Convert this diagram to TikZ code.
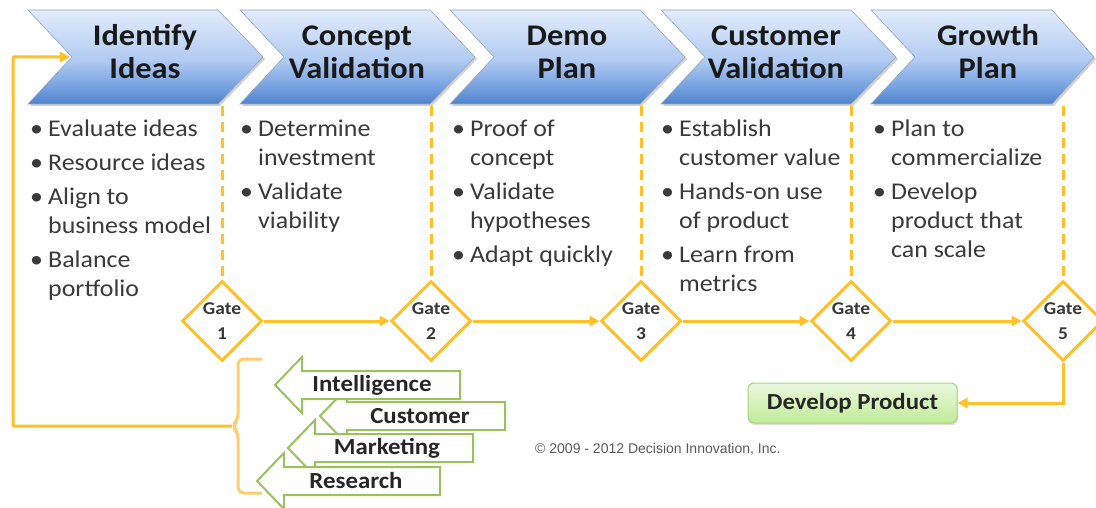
\documentclass[tikz,border=0pt]{standalone}
\usepackage{fontspec}
\setmainfont{Carlito}[FakeStretch=1.08]
\newfontfamily\arialf{Liberation Sans}
\usetikzlibrary{arrows.meta,shadows,shapes.geometric}
\definecolor{gold}{RGB}{255,192,40}
\definecolor{bracecol}{RGB}{255,205,110}
\definecolor{garr}{RGB}{155,192,95}
\definecolor{txtg}{RGB}{58,58,58}
\definecolor{ctop}{RGB}{226,236,252}
\definecolor{cmid}{RGB}{176,202,242}
\definecolor{cmid2}{RGB}{112,158,222}
\definecolor{cbot}{RGB}{80,130,202}
\definecolor{cbord}{RGB}{150,165,190}
\definecolor{gtop}{RGB}{234,248,222}
\definecolor{gbot}{RGB}{192,236,152}
\definecolor{gbord}{RGB}{165,212,125}
\pgfdeclareverticalshading{chevsh}{100bp}{color(0bp)=(cbot); color(25bp)=(cbot); color(33bp)=(cmid2); color(48bp)=(cmid); color(75bp)=(ctop); color(100bp)=(ctop)}
\newcommand\bmark{\makebox[18pt][l]{\textbullet}}
\newcommand\greenarrow[3]{%
  \filldraw[draw=garr, line width=2pt, fill=white, line join=miter]
    (#1,#2) -- (#1+27,#2-28) -- (#1+27,#2-14) -- (#3,#2-14) -- (#3,#2+14)
    -- (#1+27,#2+14) -- (#1+27,#2+28) -- cycle;}
\begin{document}
\begin{tikzpicture}[x=1pt,y=-1pt,
  title/.style={anchor=base, inner sep=0pt, font=\fontsize{30}{33}\selectfont\bfseries, text=black!90},
  bul/.style={anchor=base west, inner sep=0pt, font=\fontsize{24}{29}\selectfont, text=txtg},
  gate/.style={diamond, draw=gold, line width=3pt, fill=white, minimum size=80pt, inner sep=0pt},
  gatetxt/.style={anchor=base, inner sep=0pt, font=\fontsize{18}{25}\selectfont\bfseries, text=black!78},
  dashln/.style={draw=gold, line width=3pt, dash pattern=on 10pt off 6pt},
  flow/.style={draw=gold, line width=3pt, -{Triangle[length=10pt,width=10pt]}},
  glabel/.style={inner sep=0pt, font=\fontsize{23}{24}\selectfont\bfseries, text=black!85},
  dev/.style={rounded corners=6pt, minimum width=209pt, minimum height=40pt, top color=gtop, bottom color=gbot, draw=gbord, line width=1pt, font=\fontsize{23}{24}\selectfont\bfseries, text=black!85, drop shadow={opacity=0.25, shadow xshift=1pt, shadow yshift=-2pt}},
  copy/.style={inner sep=0pt, font=\arialf\fontsize{14}{16}\selectfont, text=black!65}
]
\useasboundingbox (0,0) rectangle (1096,508);
\fill[white] (0,0) rectangle (1096,508);

% chevrons
\foreach \a/\b/\c in {28/218/263, 240/430/475, 450/640/685, 661/851/896, 871/1052/1094}{
  \fill[black, opacity=0.18] (\a+2,12) -- (\b+2,12) -- (\c+2,59) -- (\b+2,106) -- (\a+2,106) -- (\a+46,59) -- cycle;
  \draw[cbord, line width=0.6pt, shading=chevsh] (\a,10) -- (\b,10) -- (\c,57) -- (\b,104) -- (\a,104) -- (\a+44,57) -- cycle;
}
\coordinate (n1) at (70,57);

% titles
\node[title] (t1) at (145,46) {\begin{tabular}[t]{@{}c@{}}Identify\\Ideas\end{tabular}};
\node[title] (t2) at (357,46) {\begin{tabular}[t]{@{}c@{}}Concept\\Validation\end{tabular}};
\node[title] (t3) at (567,46) {\begin{tabular}[t]{@{}c@{}}Demo\\Plan\end{tabular}};
\node[title] (t4) at (776,46) {\begin{tabular}[t]{@{}c@{}}Customer\\Validation\end{tabular}};
\node[title] (t5) at (988,46) {\begin{tabular}[t]{@{}c@{}}Growth\\Plan\end{tabular}};

% bullet lists
\node[bul] (l1) at (30,137) {\begin{tabular}[t]{@{}l@{}l@{}}
\bmark & Evaluate ideas\\[5pt]
\bmark & Resource ideas\\[5pt]
\bmark & Align to\\
 & business model\\[5pt]
\bmark & Balance\\
 & portfolio
\end{tabular}};
\node[bul] (l2) at (240,137) {\begin{tabular}[t]{@{}l@{}l@{}}
\bmark & Determine\\
 & investment\\[5pt]
\bmark & Validate\\
 & viability
\end{tabular}};
\node[bul] (l3) at (452,137) {\begin{tabular}[t]{@{}l@{}l@{}}
\bmark & Proof of\\
 & concept\\[5pt]
\bmark & Validate\\
 & hypotheses\\[5pt]
\bmark & Adapt quickly
\end{tabular}};
\node[bul] (l4) at (661,137) {\begin{tabular}[t]{@{}l@{}l@{}}
\bmark & Establish\\
 & customer value\\[5pt]
\bmark & Hands-on use\\
 & of product\\[5pt]
\bmark & Learn from\\
 & metrics
\end{tabular}};
\node[bul] (l5) at (873,137) {\begin{tabular}[t]{@{}l@{}l@{}}
\bmark & Plan to\\
 & commercialize\\[5pt]
\bmark & Develop\\
 & product that\\
 & can scale
\end{tabular}};

% gates
\foreach \i/\x in {1/222,2/431,3/641,4/851,5/1063}{
  \node[gate] (g\i) at (\x,321) {};
  \node[gatetxt] (gt\i) at (\x,314) {\begin{tabular}[t]{@{}c@{}}Gate\\\i\end{tabular}};
  \coordinate (d\i) at (\x,106);
  \draw[dashln] (d\i) -- (g\i.north);
}
\draw[flow] (g1.east) -- (g2.west);
\draw[flow] (g2.east) -- (g3.west);
\draw[flow] (g3.east) -- (g4.west);
\draw[flow] (g4.east) -- (g5.west);

% develop product
\node[dev] (dp) at (852.5,403) {Develop Product};
\draw[flow] (g5.south) |- (dp.east);

% copyright
\node[copy, anchor=base west] (cp) at (535,453) {© 2009 - 2012 Decision Innovation, Inc.};

% brace and feedback loop
\draw[bracecol, line width=3pt, rounded corners=6pt] (262,359) -- (238,359) -- (238,420) -- (232,426) -- (238,432) -- (238,493) -- (262,493);
\coordinate (bm) at (232,426);
\draw[flow, rounded corners=1pt] (bm) -- (13,426) -- (13,57) -- (n1);

% green arrows
\greenarrow{320}{416}{505}
\greenarrow{275}{385}{460}
\greenarrow{288}{448}{473}
\greenarrow{257}{481}{440}
\node[glabel] (a1) at (372,385) {Intelligence};
\node[glabel] (a2) at (420,416) {Customer};
\node[glabel] (a3) at (387,448) {Marketing};
\node[glabel] (a4) at (356,481) {Research};
\end{tikzpicture}
\end{document}
